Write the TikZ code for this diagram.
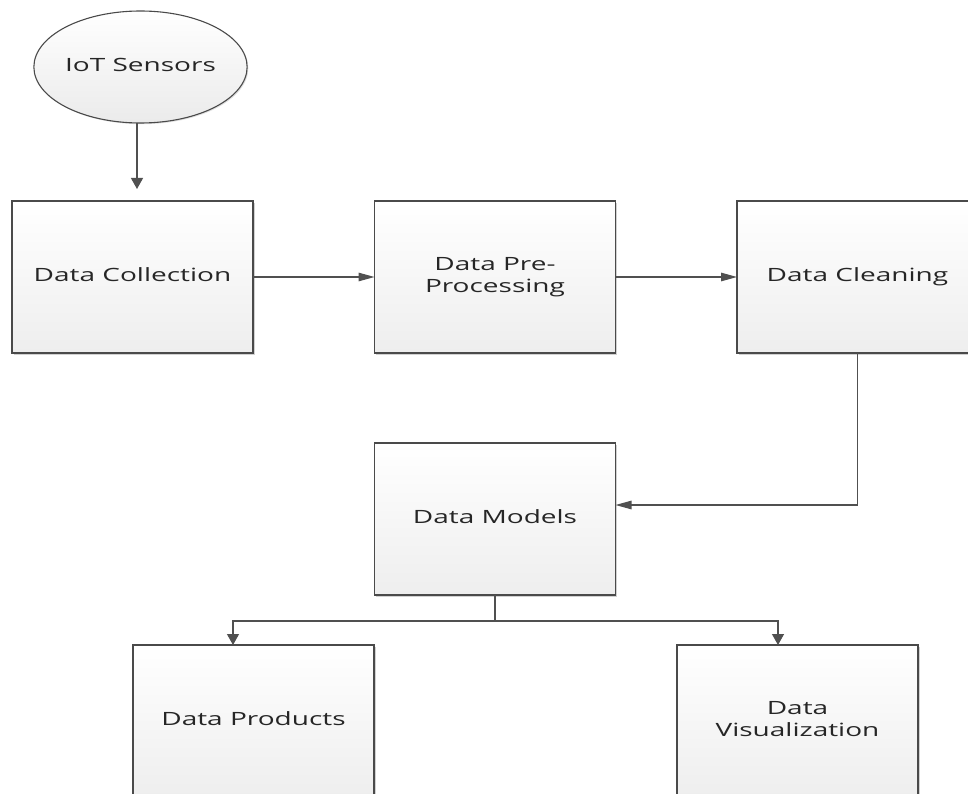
\documentclass[tikz,border=0pt]{standalone}
\usepackage{fontspec}
\setmainfont{Open Sans}
\usetikzlibrary{arrows.meta,shadows,shapes.geometric}

\definecolor{edgegray}{HTML}{4A4A4A}
\definecolor{wiregray}{HTML}{505050}
\definecolor{boxbottom}{HTML}{EEEEEE}
\definecolor{labelgray}{HTML}{262626}

% labels are set wide, the way the drawing is laid out
\newcommand\widelabel[1]{\raisebox{-1.5pt}{\scalebox{1.53}[1]{\begin{tabular}{@{}c@{}}#1\end{tabular}}}}

\tikzset{
  stage/.style={draw=edgegray, line width=1.2pt, top color=white, bottom color=boxbottom,
    minimum width=241pt, minimum height=152pt, inner sep=0pt, outer sep=0pt,
    font=\fontsize{18.3}{21.5}\selectfont, text=labelgray,
    drop shadow={shadow xshift=1.6pt, shadow yshift=-1.6pt, fill=black!30, opacity=0.6}},
  source/.style={ellipse, draw=edgegray, line width=1.1pt, top color=white, bottom color=black!8,
    minimum width=177pt, minimum height=112pt, inner sep=0pt, outer sep=0pt,
    font=\fontsize{18.3}{21.5}\selectfont, text=labelgray,
    drop shadow={shadow xshift=1.2pt, shadow yshift=-1.2pt, fill=black!25, opacity=0.5}},
  wire/.style={draw=wiregray, line width=1.2pt},
  harrow/.style={wire, -{Triangle[length=16pt,width=8.5pt]}},
  varrow/.style={wire, -{Triangle[length=11pt,width=12pt]}}
}

\begin{document}
\begin{tikzpicture}[x=1pt,y=1pt]
  \useasboundingbox (0,0) rectangle (968,-794);
  \clip (0,0) rectangle (968,-794);

  % nodes
  \node[source] (sensors) at (140.5,-67) {\widelabel{IoT Sensors}};
  \node[stage] (collection) at (132.5,-277) {\widelabel{Data Collection}};
  \node[stage] (preproc) at (495,-277) {\widelabel{Data Pre-\\Processing}};
  \node[stage] (cleaning) at (857.5,-277) {\widelabel{Data Cleaning}};
  \node[stage] (models) at (495,-519) {\widelabel{Data Models}};
  \node[stage] (products) at (253.5,-721) {\widelabel{Data Products}};
  \node[stage] (visual) at (797.5,-721) {\widelabel{Data\\Visualization}};

  % connectors
  \coordinate (sensorin) at (137,-189);
  \draw[varrow] (sensors.south -| sensorin) -- (sensorin);
  \draw[harrow] (collection.east) -- (preproc.west);
  \draw[harrow] (preproc.east) -- (cleaning.west);
  \draw[harrow] (cleaning.south) |- ([yshift=14pt]models.east);
  \draw[wire] (models.south) -- ++(0,-26) coordinate (split);
  \draw[varrow] (split) -| ([xshift=-20.5pt]products.north);
  \draw[varrow] (split) -| ([xshift=-19.5pt]visual.north);
\end{tikzpicture}
\end{document}
